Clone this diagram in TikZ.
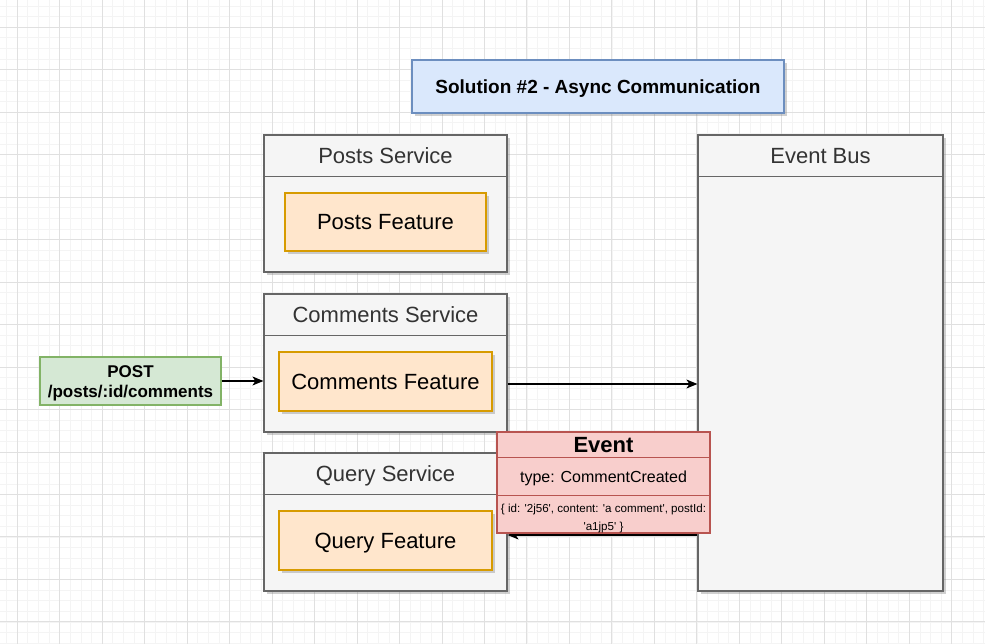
\documentclass[tikz,border=0pt]{standalone}
\usepackage{fontspec}
\setmainfont{Liberation Sans}
\usetikzlibrary{arrows.meta,shadows}
\definecolor{minorc}{HTML}{F4F4F4}
\definecolor{majorc}{HTML}{E0E0E0}
\definecolor{lanefill}{HTML}{F5F5F5}
\definecolor{lanestroke}{HTML}{666666}
\definecolor{lanetext}{HTML}{333333}
\definecolor{featfill}{HTML}{FFE6CC}
\definecolor{featstroke}{HTML}{D79B00}
\definecolor{titlefill}{HTML}{DAE8FC}
\definecolor{titlestroke}{HTML}{6C8EBF}
\definecolor{greenfill}{HTML}{D5E8D4}
\definecolor{greenstroke}{HTML}{82B366}
\definecolor{redfill}{HTML}{F8CECC}
\definecolor{redstroke}{HTML}{B85450}
\newcommand{\sq}{\textquotesingle}
\tikzset{
  x=1pt, y=1pt,
  lbl/.style={inner sep=0pt, anchor=base},
  shad/.style={drop shadow={shadow xshift=2.5pt, shadow yshift=-3pt, opacity=0.3, fill=black!60}},
  lane/.style={draw=lanestroke, fill=lanefill, line width=1.2pt, inner sep=0pt, shad},
  lanetitle/.style={lbl, text=lanetext, font=\fontsize{22}{26}\selectfont},
  feat/.style={draw=featstroke, fill=featfill, line width=1.1pt, inner sep=0pt, shad},
  feattext/.style={lbl, font=\fontsize{22}{26}\selectfont},
  conn/.style={line width=1.2pt, -{Stealth[length=11pt,width=9pt,inset=3pt]}},
}
\begin{document}
\begin{tikzpicture}
\useasboundingbox (0,0) rectangle (985,-644);
\fill[white] (0,0) rectangle (985,-644);
% grid
\foreach \k in {0,...,92} {\draw[minorc, line width=0.9pt] ({6.68+10.62*\k},0) -- ({6.68+10.62*\k},-644);}
\foreach \k in {0,...,60} {\draw[minorc, line width=0.9pt] (0,{-6.06-10.62*\k}) -- (985,{-6.06-10.62*\k});}
\foreach \k in {0,...,23} {\draw[majorc, line width=0.9pt] ({17.3+42.47*\k},0) -- ({17.3+42.47*\k},-644);}
\foreach \k in {0,...,14} {\draw[majorc, line width=0.9pt] (0,{-27.3-42.47*\k}) -- (985,{-27.3-42.47*\k});}

% title
\node[draw=titlestroke, fill=titlefill, line width=1.1pt, shad, minimum width=372pt, minimum height=53pt, inner sep=0pt] (title) at (598,-86.5) {};
\node[lbl, font=\bfseries\fontsize{19}{22}\selectfont] (titletext) at (598,-93.3) {Solution \#2 - Async Communication};

% Posts service
\node[lane, minimum width=243pt, minimum height=137pt] (posts) at (385.5,-203.5) {};
\draw[lanestroke, line width=1.2pt] ([yshift=-42pt]posts.north west) -- ([yshift=-42pt]posts.north east);
\node[lanetitle] (poststitle) at (385.5,-163.9) {Posts Service};
\node[feat, minimum width=201pt, minimum height=58pt] (postsf) at (385.5,-222) {};
\node[feattext] (postsftext) at (385.5,-229.9) {Posts Feature};

% Comments service
\node[lane, minimum width=243pt, minimum height=138pt] (comments) at (385.5,-363) {};
\draw[lanestroke, line width=1.2pt] ([yshift=-42pt]comments.north west) -- ([yshift=-42pt]comments.north east);
\node[lanetitle] (commentstitle) at (385.5,-322.9) {Comments Service};
\node[feat, minimum width=213pt, minimum height=59pt] (commentsf) at (385.5,-381.5) {};
\node[feattext] (commentsftext) at (385.5,-389.4) {Comments Feature};

% Query service
\node[lane, minimum width=243pt, minimum height=138pt] (query) at (385.5,-522) {};
\draw[lanestroke, line width=1.2pt] ([yshift=-42pt]query.north west) -- ([yshift=-42pt]query.north east);
\node[lanetitle] (querytitle) at (385.5,-481.9) {Query Service};
\node[feat, minimum width=213pt, minimum height=59pt] (queryf) at (385.5,-540.5) {};
\node[feattext] (queryftext) at (385.5,-548.4) {Query Feature};

% Event bus
\node[lane, minimum width=245pt, minimum height=456pt] (bus) at (820.5,-363) {};
\draw[lanestroke, line width=1.2pt] ([yshift=-42pt]bus.north west) -- ([yshift=-42pt]bus.north east);
\node[lanetitle] (bustitle) at (820.5,-163.9) {Event Bus};

% POST request
\node[draw=greenstroke, fill=greenfill, line width=1.1pt, minimum width=181pt, minimum height=48pt, inner sep=0pt] (post) at (130.5,-381) {};
\node[lbl, font=\bfseries\fontsize{17}{20}\selectfont] (postl1) at (130.5,-377.4) {POST};
\node[lbl, font=\bfseries\fontsize{17}{20}\selectfont] (postl2) at (130.5,-397.4) {/posts/:id/comments};

% connectors
\draw[conn] (post.east) -- (post.east -| comments.west);
\coordinate (c2) at ([yshift=-21pt]comments.east);
\draw[conn] (c2) -- (c2 -| bus.west);
\coordinate (c3) at ([yshift=-13pt]query.east);
\draw[conn] (c3 -| bus.west) -- (c3);

% Event box
\node[draw=redstroke, fill=redfill, line width=1.1pt, minimum width=213pt, minimum height=101pt, inner sep=0pt] (evt) at (603.5,-482.5) {};
\draw[redstroke, line width=1.1pt] ([yshift=-26pt]evt.north west) -- ([yshift=-26pt]evt.north east);
\draw[redstroke, line width=1.1pt] ([yshift=-64pt]evt.north west) -- ([yshift=-64pt]evt.north east);
\node[lbl, font=\bfseries\fontsize{22}{26}\selectfont] (evttitle) at (603.5,-452.9) {Event};
\node[lbl, font=\fontsize{16}{19}\selectfont] (evttype) at (603.5,-482.7) {type: CommentCreated};
\node[lbl, font=\fontsize{11.6}{14}\selectfont] (evtdata1) at (603.5,-512.2) {\{ id: \sq 2j56\sq, content: \sq a comment\sq, postId:};
\node[lbl, font=\fontsize{11.6}{14}\selectfont] (evtdata2) at (603.5,-530.5) {\sq a1jp5\sq\ \}};
\end{tikzpicture}
\end{document}
